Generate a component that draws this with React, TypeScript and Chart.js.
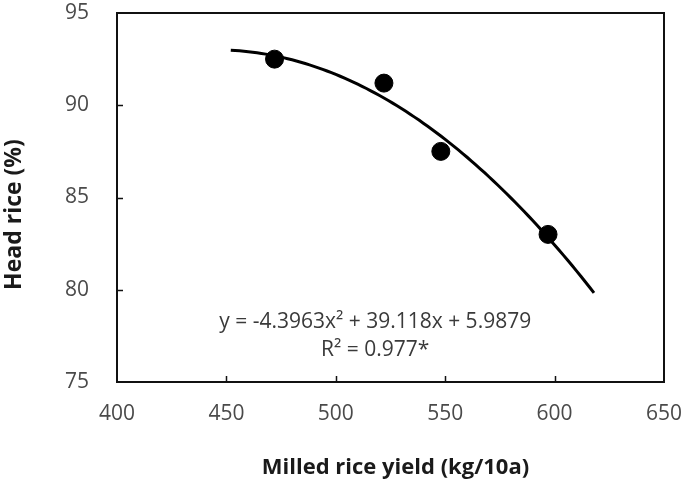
import React, { useEffect, useRef } from "react";
import { Chart, registerables } from "chart.js";

Chart.register(...registerables);

// Observed milled rice yield (kg/10a) and head rice ratio (%)
const yieldKg = [472, 522, 548, 597];
const headRice = [92.5, 91.2, 87.5, 83.0];

// Axis ticks
const xTicks = [400, 450, 500, 550, 600, 650];
const yTicks = [75, 80, 85, 90, 95];

// Quadratic fit y = a·x² + b·x + c, with x in units of 100 kg/10a
const fitCoef = [-4.3963, 39.118, 5.9879];
const fitRange = [452, 618];
const equationText = "y = -4.3963x² + 39.118x + 5.9879";
const r2Text = "R² = 0.977*";

const xTitle = "Milled rice yield (kg/10a)";
const yTitle = "Head rice (%)";

const FONT = '"Open Sans", "Noto Sans", sans-serif';
const TICK_GRAY = "#4a4a4a";
const TITLE_COLOR = "#1a1a1a";

function fitCurve() {
  const pts: { x: number; y: number }[] = [];
  const [a, b, c] = fitCoef;
  for (let v = fitRange[0]; v <= fitRange[1]; v += 2) {
    const t = v / 100;
    pts.push({ x: v, y: a * t * t + b * t + c });
  }
  return pts;
}

const framePlugin = {
  id: "frame",
  beforeDatasetsDraw(chart: any) {
    const { ctx, chartArea: a, scales } = chart;
    const x = scales.x;
    const y = scales.y;
    ctx.save();
    ctx.strokeStyle = "#111";
    ctx.lineWidth = 2;
    ctx.strokeRect(a.left, a.top, a.right - a.left, a.bottom - a.top);
    // inward tick marks
    ctx.beginPath();
    xTicks.slice(1, -1).forEach((v) => {
      const px = Math.round(x.getPixelForValue(v)) + 0.5;
      ctx.moveTo(px, a.bottom);
      ctx.lineTo(px, a.bottom - 6);
    });
    yTicks.slice(1, -1).forEach((v) => {
      const py = Math.round(y.getPixelForValue(v)) + 0.5;
      ctx.moveTo(a.left, py);
      ctx.lineTo(a.left + 6, py);
    });
    ctx.lineWidth = 1.5;
    ctx.stroke();
    ctx.restore();
  },
  afterDraw(chart: any) {
    const { ctx, chartArea: a, scales } = chart;
    const x = scales.x;
    const y = scales.y;
    ctx.save();
    // fit equation
    ctx.fillStyle = "#3a3a3a";
    ctx.font = `21px ${FONT}`;
    ctx.textAlign = "center";
    ctx.textBaseline = "middle";
    const ex = x.getPixelForValue(518);
    ctx.fillText(equationText, ex, y.getPixelForValue(78.27));
    ctx.fillText(r2Text, ex, y.getPixelForValue(76.72));
    // axis titles
    ctx.fillStyle = TITLE_COLOR;
    ctx.font = `bold 22px ${FONT}`;
    ctx.fillText(xTitle, (a.left + a.right) / 2 + 5, a.bottom + 86);
    ctx.font = `bold 23px ${FONT}`;
    ctx.translate(a.left - 103, (a.top + a.bottom) / 2 + 17);
    ctx.rotate(-Math.PI / 2);
    ctx.fillText(yTitle, 0, 0);
    ctx.restore();
  },
};

export default function App() {
  const ref = useRef<HTMLCanvasElement | null>(null);

  useEffect(() => {
    if (!ref.current) return;
    const chart = new Chart(ref.current, {
      type: "scatter",
      data: {
        datasets: [
          {
            label: "fit",
            data: fitCurve(),
            showLine: true,
            borderColor: "#000",
            borderWidth: 3,
            pointRadius: 0,
            tension: 0,
          },
          {
            label: "observed",
            data: yieldKg.map((v, i) => ({ x: v, y: headRice[i] })),
            backgroundColor: "#000",
            borderColor: "#000",
            pointRadius: 9,
            pointHoverRadius: 9,
          },
        ],
      },
      options: {
        responsive: false,
        animation: false,
        devicePixelRatio: 1,
        layout: { padding: { top: 13, right: 24, left: 0, bottom: 0 } },
        plugins: { legend: { display: false }, tooltip: { enabled: false } },
        scales: {
          x: {
            type: "linear",
            min: 400,
            max: 650,
            afterBuildTicks: (s: any) => {
              s.ticks = xTicks.map((v) => ({ value: v }));
            },
            afterFit: (s: any) => {
              s.height = 100;
              s.paddingLeft = 0;
              s.paddingRight = 0;
            },
            grid: { display: false, drawTicks: false },
            border: { display: false },
            ticks: {
              padding: 19,
              color: TICK_GRAY,
              font: { family: FONT, size: 21 },
              maxRotation: 0,
            },
          },
          y: {
            type: "linear",
            min: 75,
            max: 95,
            afterBuildTicks: (s: any) => {
              s.ticks = yTicks.map((v) => ({ value: v }));
            },
            afterFit: (s: any) => {
              s.width = 117;
              s.paddingTop = 0;
              s.paddingBottom = 0;
            },
            grid: { display: false, drawTicks: false },
            border: { display: false },
            ticks: {
              padding: 28,
              color: TICK_GRAY,
              font: { family: FONT, size: 21 },
            },
          },
        },
      },
      plugins: [framePlugin],
    });
    return () => chart.destroy();
  }, []);

  return (
    <div style={{ position: "fixed", left: 0, top: 0, width: 688, height: 482, background: "#fff" }}>
      <canvas ref={ref} width={688} height={482} />
    </div>
  );
}
